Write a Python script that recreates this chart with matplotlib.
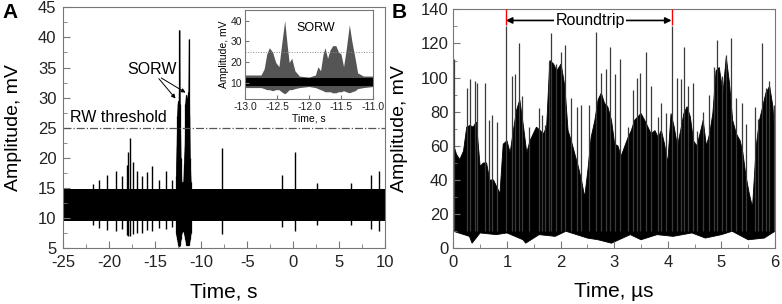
import numpy as np
import matplotlib
matplotlib.use('Agg')
import matplotlib.pyplot as plt
from matplotlib.ticker import MultipleLocator

plt.rcParams['font.family'] = ['Liberation Sans', 'DejaVu Sans']
plt.rcParams['axes.unicode_minus'] = False

# ---- panel A: background band and isolated spikes ----
band_lo, band_hi = 9.5, 14.8
a_sp_t = [-21.8, -21.1, -20.2, -19.3, -18.6, -18.1, -18.0, -17.7, -17.45, -17.0, -16.4, -15.9,
          -15.4, -14.55, -13.8, -13.2, -7.75, -1.2, 0.2, 2.6, 6.3, 8.5, 9.3]
a_sp_top = [15.6, 16.3, 17.2, 17.9, 17.0, 18.8, 21.0, 23.3, 19.4, 17.9, 17.0, 17.7,
            18.6, 16.3, 17.9, 16.3, 21.6, 17.2, 21.0, 15.9, 15.9, 17.2, 17.9]
a_sp_bot = [8.8, 8.3, 8.0, 7.8, 8.2, 7.2, 7.0, 7.0, 7.3, 7.5, 7.5, 8.0,
            7.8, 8.3, 8.2, 8.5, 7.3, 8.5, 7.8, 8.8, 8.8, 8.2, 7.8]

# SORW bursts
sorw_t = [-12.75, -12.68, -12.62, -12.56, -12.5, -12.45, -12.4, -12.38, -12.34, -12.3, -12.25, -12.15,
          -11.95, -11.88, -11.8, -11.74, -11.68, -11.62, -11.56, -11.5, -11.44, -11.4, -11.36, -11.3,
          -11.25, -11.15]
sorw_top = [17, 22, 27, 29, 29.5, 28, 31, 41.2, 29, 24, 20, 16,
            16, 19, 22, 29, 30, 30.5, 30, 28, 30, 31, 39.7, 27,
            20, 16]
sorw_bot = [7.5, 7, 6.5, 6, 5.5, 5.5, 5.3, 5.3, 5.5, 6, 6.5, 7.5,
            8, 7.5, 7, 6.5, 6, 5.5, 5.5, 5.5, 5.5, 5.5, 5.5, 6,
            6.5, 7.5]
threshold = 25

# inset (zoom on SORW)
inset_t = [-13.0, -12.75, -12.7, -12.66, -12.62, -12.57, -12.52, -12.47, -12.43, -12.38,
           -12.34, -12.31, -12.27, -12.22, -12.15, -12.0, -11.9, -11.86, -11.82, -11.78,
           -11.75, -11.71, -11.67, -11.63, -11.58, -11.54, -11.5, -11.46, -11.42, -11.37,
           -11.33, -11.28, -11.24, -11.15, -11.0]
inset_top = [14, 14, 17, 24, 27, 25, 20, 18, 28, 40,
             28, 20, 22, 16, 13.5, 13, 14, 18, 16, 24,
             27, 22, 26, 28, 28, 25, 24, 18, 26, 38,
             30, 22, 15, 13.5, 13.5]
inset_bot = [8, 8, 7.5, 7, 7, 6.5, 7, 7, 6, 5,
             6, 7, 7, 7.5, 8, 8.5, 8, 7.5, 7, 6.5,
             6, 6, 6, 5.5, 5.5, 6, 6, 6.5, 6, 5.5,
             6, 6.5, 7.5, 8, 8.5]
inset_band = (8.8, 12.8)

# ---- panel B: envelope of the dense trace and tall spikes ----
b_t = [0.0, 0.06, 0.12, 0.19, 0.25, 0.31, 0.37, 0.43, 0.5, 0.56, 0.62, 0.68, 0.75, 0.81, 0.87, 0.93,
       1.0, 1.06, 1.12, 1.18, 1.24, 1.31, 1.37, 1.43, 1.49, 1.55, 1.62, 1.68, 1.74, 1.8, 1.87, 1.93,
       2.01, 2.08, 2.14, 2.2, 2.26, 2.33, 2.39, 2.45, 2.51, 2.57, 2.64, 2.7, 2.76, 2.82, 2.88, 2.95,
       3.01, 3.07, 3.13, 3.2, 3.26, 3.32, 3.38, 3.44, 3.5, 3.57, 3.63, 3.69, 3.76, 3.82, 3.88, 3.94,
       4.0, 4.06, 4.12, 4.18, 4.24, 4.3, 4.36, 4.42, 4.48, 4.54, 4.6, 4.66, 4.72, 4.78, 4.84, 4.9,
       4.96, 5.03, 5.09, 5.15, 5.21, 5.28, 5.35, 5.4, 5.46, 5.52, 5.58, 5.65, 5.71, 5.77, 5.83, 5.9,
       5.96, 6.0]
b_top = [61, 55, 52, 57, 71, 72, 71, 74, 48, 50, 50, 40, 40, 36, 32, 61,
         63, 56, 69, 81, 87, 71, 56, 63, 67, 71, 69, 67, 71, 110, 108, 104,
         108, 95, 69, 63, 56, 48, 40, 30, 46, 65, 75, 87, 91, 85, 83, 75,
         61, 60, 54, 60, 65, 69, 75, 77, 79, 75, 71, 67, 69, 65, 69, 61,
         50, 79, 71, 60, 69, 79, 83, 77, 63, 60, 67, 75, 60, 67, 79, 104,
         106, 91, 112, 97, 75, 67, 63, 56, 42, 32, 24, 60, 75, 83, 91, 95,
         83, 65]
low_t = [0.0, 0.3, 0.35, 0.5, 0.8, 1.0, 1.3, 1.35, 1.6, 1.9, 2.1, 2.5, 2.7,
         2.95, 3.3, 3.5, 3.8, 4.1, 4.45, 4.7, 5.0, 5.2, 5.5, 5.8, 6.0]
low_v = [10, 7, 3, 9, 8, 9, 5, 3, 8, 7, 10, 6, 5,
         3, 8, 5, 8, 7, 9, 6, 8, 10, 5, 6, 10]
bs_t = [0.01, 0.25, 0.32, 0.40, 0.45, 0.6, 0.67, 0.73, 0.81, 0.98, 1.09, 1.15, 1.23, 1.29, 1.42,
        1.59, 1.65, 1.71, 1.78, 1.83, 1.92, 2.01, 2.09, 2.19, 2.30, 2.39, 2.53, 2.66, 2.75, 2.84,
        2.93, 3.01, 3.1, 3.26, 3.35, 3.42, 3.49, 3.59, 3.69, 3.82, 3.87, 3.97, 4.07, 4.17, 4.24,
        4.31, 4.37, 4.47, 4.54, 4.66, 4.76, 4.87, 4.92, 5.01, 5.09, 5.17, 5.27, 5.39, 5.45, 5.62,
        5.68, 5.75, 5.83, 5.89, 5.98]
bs_top = [111, 94, 99, 98, 97, 97, 75, 78, 74, 130, 101, 102, 120, 89, 71,
          82, 78, 72, 109, 126, 108, 115, 119, 88, 83, 84, 84, 127, 103, 105,
          118, 102, 111, 71, 93, 100, 103, 115, 95, 77, 85, 79, 130, 100, 99,
          118, 95, 97, 69, 80, 90, 106, 122, 101, 113, 123, 88, 85, 73, 83,
          76, 120, 94, 98, 84]
roundtrip = (0.98, 4.07)

GRID = '#777777'


def style(ax, labsize=12):
    for s in ax.spines.values():
        s.set_color(GRID)
        s.set_linewidth(0.8)
    ax.tick_params(which='both', direction='in', color=GRID, labelsize=labsize,
                   labelcolor='#222222', top=False, right=False)
    ax.tick_params(which='major', length=5)
    ax.tick_params(which='minor', length=3)


fig = plt.figure(figsize=(7.82, 3.04), dpi=100)

# ---------------- A ----------------
axA = fig.add_axes([0.081, 0.1832, 0.4114, 0.793])
axA.fill_between([-25, 10], band_lo, band_hi, color='black', lw=0)
axA.vlines(a_sp_t, a_sp_bot, a_sp_top, color='black', lw=1.0)
axA.fill_between(sorw_t, sorw_bot, sorw_top, color='black', lw=0.5)
axA.vlines(sorw_t, sorw_bot, sorw_top, color='black', lw=0.9)
axA.axhline(threshold, color='#555555', lw=0.9, ls='-.')
axA.text(-24.3, threshold + 0.4, 'RW threshold', fontsize=11.5, va='bottom', ha='left')
axA.text(-15.3, 34.7, 'SORW', fontsize=11.5, va='center', ha='center')
axA.annotate('', xy=(-12.6, 29.5), xytext=(-14.8, 33.5),
             arrowprops=dict(arrowstyle='-|>', color='black', lw=0.7, mutation_scale=6))
axA.annotate('', xy=(-11.45, 30.6), xytext=(-14.6, 33.5),
             arrowprops=dict(arrowstyle='-|>', color='black', lw=0.7, mutation_scale=6))
axA.set_xlim(-25, 10)
axA.set_ylim(5, 45)
axA.xaxis.set_major_locator(MultipleLocator(5))
axA.xaxis.set_minor_locator(MultipleLocator(2.5))
axA.yaxis.set_major_locator(MultipleLocator(5))
axA.yaxis.set_minor_locator(MultipleLocator(2.5))
style(axA)
axA.tick_params(axis='x', pad=5)
axA.tick_params(axis='y', pad=5)
axA.set_xlabel('Time, s', fontsize=15)
axA.set_ylabel('Amplitude, mV', fontsize=14)
axA.yaxis.set_label_coords(-0.13, 0.5)
axA.xaxis.set_label_coords(0.5, -0.14)

# inset
axI = fig.add_axes([0.3133, 0.674, 0.1637, 0.293])
axI.fill_between(inset_t, inset_bot, inset_top, color='#555555', lw=0)
axI.fill_between([-13, -11], inset_band[0], inset_band[1], color='black', lw=0)
axI.axhline(threshold, color='#888888', lw=0.7, ls=':')
axI.text(-11.9, 36.5, 'SORW', fontsize=9, ha='center', va='center')
axI.set_xlim(-13, -11)
axI.set_ylim(2.5, 45)
axI.yaxis.set_major_locator(MultipleLocator(10))
axI.set_xticks([-13, -12.5, -12, -11.5, -11])
axI.set_xticklabels(['-13.0', '-12.5', '-12.0', '-11.5', '-11.0'])
style(axI, labsize=7.5)
axI.tick_params(which='major', length=3, pad=2)
axI.set_xlabel('Time, s', fontsize=7.5, labelpad=1)
axI.set_ylabel('Amplitude, mV', fontsize=7.5, labelpad=1)

# ---------------- B ----------------
axB = fig.add_axes([0.5797, 0.1832, 0.4114, 0.786])
axB.fill(np.r_[b_t, low_t[::-1]], np.r_[b_top, low_v[::-1]], color='black', lw=0.6)
axB.vlines(bs_t, 10, bs_top, color='#3a3a3a', lw=0.9)
axB.vlines(roundtrip, 131, 140, color='red', lw=1.0, zorder=4)
axB.annotate('', xy=(roundtrip[0], 133.5), xytext=(roundtrip[1], 133.5),
             arrowprops=dict(arrowstyle='<|-|>', color='black', lw=1.2, mutation_scale=9,
                             shrinkA=0, shrinkB=0))
axB.text(2.55, 133.5, 'Roundtrip', fontsize=11.5, ha='center', va='center',
         bbox=dict(facecolor='white', edgecolor='none', pad=1.0))
axB.set_xlim(0, 6)
axB.set_ylim(0, 140)
axB.xaxis.set_major_locator(MultipleLocator(1))
axB.xaxis.set_minor_locator(MultipleLocator(0.5))
axB.yaxis.set_major_locator(MultipleLocator(20))
axB.yaxis.set_minor_locator(MultipleLocator(10))
style(axB)
axB.tick_params(axis='x', pad=5)
axB.set_xlabel('Time, \u00b5s', fontsize=15)
axB.set_ylabel('Amplitude, mV', fontsize=14)
axB.yaxis.set_label_coords(-0.14, 0.5)
axB.xaxis.set_label_coords(0.5, -0.14)

fig.text(0.003, 0.99, 'A', fontsize=15, fontweight='bold', va='top', ha='left')
fig.text(0.501, 0.99, 'B', fontsize=15, fontweight='bold', va='top', ha='left')

fig.savefig('out.png', dpi=100)
